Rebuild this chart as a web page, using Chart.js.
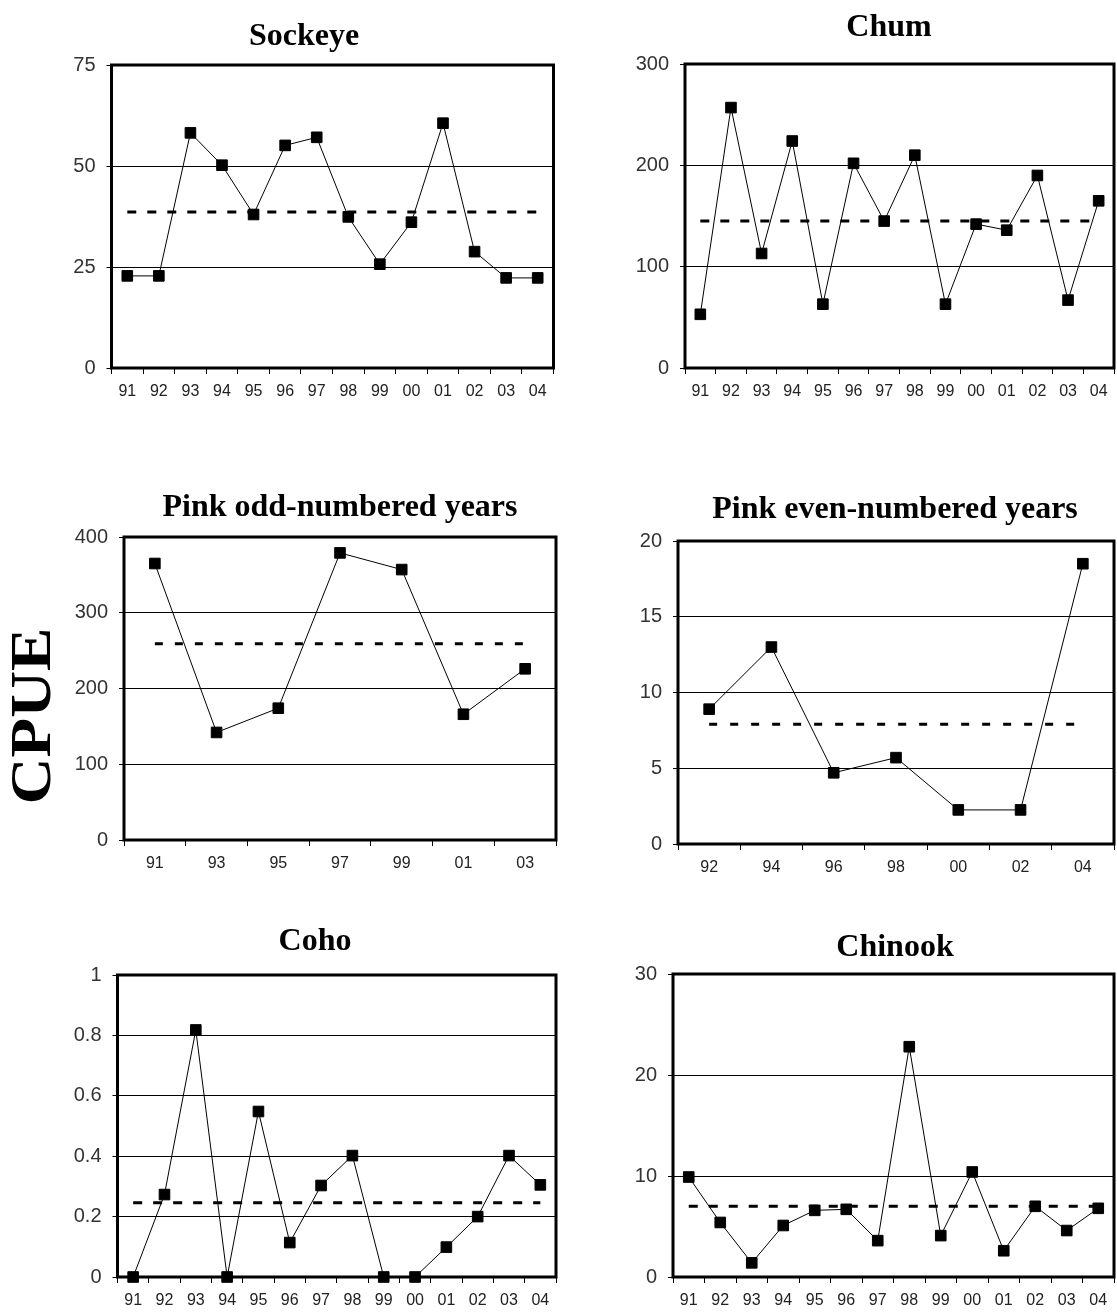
<!DOCTYPE html>
<html>
<head>
<meta charset="utf-8">
<script src="https://cdn.jsdelivr.net/npm/chart.js@4.4.1/dist/chart.umd.min.js"></script>
<style>
	body { margin: 0; background: #fff; width: 1117px; height: 1313px; overflow: hidden; position: relative; }
	canvas { position: absolute; }
	#cpue {
		position: absolute; left: 31px; top: 716px;
		font: bold 58px 'Liberation Serif', 'Times New Roman', serif; line-height: 1; color: #000;
		transform: translate(-50%, -50%) rotate(-90deg) scaleX(1.12);
		white-space: nowrap;
	}
</style>
</head>
<body>
<div id="cpue">CPUE</div>
<canvas id="sockeyeChart"></canvas>
<canvas id="chumChart"></canvas>
<canvas id="pinkOddChart"></canvas>
<canvas id="pinkEvenChart"></canvas>
<canvas id="cohoChart"></canvas>
<canvas id="chinookChart"></canvas>
<script>
// years on the x axis
const allYears = ['91','92','93','94','95','96','97','98','99','00','01','02','03','04'];
const oddYears = ['91','93','95','97','99','01','03'];
const evenYears = ['92','94','96','98','00','02','04'];

// CPUE by species
const sockeye = [22.8, 22.8, 58.2, 50.2, 38.0, 55.1, 57.1, 37.4, 25.7, 36.1, 60.6, 28.8, 22.3, 22.3];
const sockeyeMean = 38.6;
const chum = [53, 257, 113, 224, 63, 202, 145, 210, 63, 142, 136, 190, 67, 165];
const chumMean = 145;
const pinkOdd = [365, 142, 174, 379, 357, 166, 226];
const pinkOddMean = 259;
const pinkEven = [8.9, 13.0, 4.7, 5.7, 2.25, 2.25, 18.5];
const pinkEvenMean = 7.9;
const coho = [0, 0.273, 0.818, 0, 0.548, 0.114, 0.303, 0.402, 0, 0, 0.099, 0.2, 0.402, 0.305];
const cohoMean = 0.246;
const chinook = [9.9, 5.4, 1.4, 5.1, 6.6, 6.7, 3.6, 22.8, 4.1, 10.4, 2.6, 7.0, 4.6, 6.8];
const chinookMean = 7.0;

const titleSize = 32;
const xAxisHeight = 45;

// thick frame around the plot area
const framePlugin = {
	id: 'frame',
	beforeDatasetsDraw(chart) {
		const a = chart.chartArea, ctx = chart.ctx;
		ctx.save();
		ctx.lineWidth = 3;
		ctx.strokeStyle = '#000';
		ctx.strokeRect(a.left, a.top, a.right - a.left, a.bottom - a.top);
		ctx.restore();
	}
};

function drawPanel(id, p){
	// canvas is centred on the title, so the plot box sits where it should
	const left = Math.round(Math.min(p.box.l - 60, 2 * p.titleX - p.box.r - 20));
	const right = 2 * p.titleX - left;
	const top = Math.round(p.titleY - titleSize * 0.6);
	const yWidth = p.box.l - left, gapWidth = right - p.box.r;
	const canvas = document.getElementById(id);
	canvas.width = right - left;
	canvas.height = Math.round(p.box.b + xAxisHeight - top);
	canvas.style.left = left + 'px';
	canvas.style.top = top + 'px';

	new Chart(canvas, {
		type: 'line',
		data: {
			labels: p.labels,
			datasets: [{
				data: p.values,
				borderColor: '#000',
				borderWidth: 1,
				pointStyle: 'rect',
				pointRadius: 7.5,
				pointBorderWidth: 1,
				pointBackgroundColor: '#000',
				pointBorderColor: '#000',
				clip: false
			}, {
				data: [{x: p.labels[0], y: p.mean}, {x: p.labels[p.labels.length - 1], y: p.mean}],
				borderColor: '#000',
				borderWidth: 3,
				borderDash: p.dash || [9, 11],
				pointRadius: 0,
				clip: false
			}]
		},
		options: {
			responsive: false,
			animation: false,
			layout: { padding: 0 },
			plugins: {
				legend: { display: false },
				tooltip: { enabled: false },
				title: {
					display: true,
					text: p.title,
					color: '#000',
					font: { family: 'Liberation Serif', size: titleSize, weight: 'bold' },
					padding: { top: 0, bottom: p.box.t - top - titleSize * 1.2 }
				}
			},
			scales: {
				x: {
					type: 'category',
					offset: true,
					afterFit(scale){ scale.height = xAxisHeight; },
					grid: { display: true, drawOnChartArea: false, drawTicks: true, tickLength: 6, offset: true, color: '#000', lineWidth: 1 },
					border: { display: false },
					ticks: { color: '#222', padding: 8, maxRotation: 0, autoSkip: false, font: { family: 'Liberation Sans', size: 16 } }
				},
				y: {
					min: 0,
					max: p.max,
					afterFit(scale){ scale.width = yWidth; },
					grid: { color: '#000', lineWidth: 1, tickLength: 5 },
					border: { display: false },
					ticks: {
						stepSize: p.step, color: '#333', padding: 11,
						font: { family: 'Liberation Sans', size: 20 },
						callback: v => String(Number(v.toFixed(2)))
					}
				},
				// empty strip on the right so the title stays centred where it is in the figure
				gap: {
					axis: 'y',
					type: 'linear',
					position: 'right',
					display: true,
					afterFit(scale){ scale.width = gapWidth; },
					grid: { display: false },
					border: { display: false },
					ticks: { display: false }
				}
			}
		},
		plugins: [framePlugin]
	});
}

drawPanel('sockeyeChart', { title: 'Sockeye', labels: allYears, values: sockeye, mean: sockeyeMean, max: 75, step: 25,
	box: { l: 111.5, t: 65, r: 553.5, b: 367.5 }, titleX: 304, titleY: 37 });
drawPanel('chumChart', { title: 'Chum', labels: allYears, values: chum, mean: chumMean, max: 300, step: 100,
	box: { l: 685, t: 64, r: 1114, b: 368 }, titleX: 889, titleY: 28 });
drawPanel('pinkOddChart', { title: 'Pink odd-numbered years', labels: oddYears, values: pinkOdd, mean: pinkOddMean, max: 400, step: 100,
	box: { l: 124, t: 537, r: 556, b: 840 }, titleX: 340, titleY: 508, dash: [8, 12] });
drawPanel('pinkEvenChart', { title: 'Pink even-numbered years', labels: evenYears, values: pinkEven, mean: pinkEvenMean, max: 20, step: 5,
	box: { l: 678, t: 541, r: 1114, b: 844 }, titleX: 895, titleY: 510, dash: [8, 13] });
drawPanel('cohoChart', { title: 'Coho', labels: allYears, values: coho, mean: cohoMean, max: 1, step: 0.2,
	box: { l: 117.5, t: 975, r: 556, b: 1277 }, titleX: 315, titleY: 942 });
drawPanel('chinookChart', { title: 'Chinook', labels: allYears, values: chinook, mean: chinookMean, max: 30, step: 10,
	box: { l: 673, t: 974, r: 1114, b: 1277 }, titleX: 895, titleY: 948 });
</script>
</body>
</html>
